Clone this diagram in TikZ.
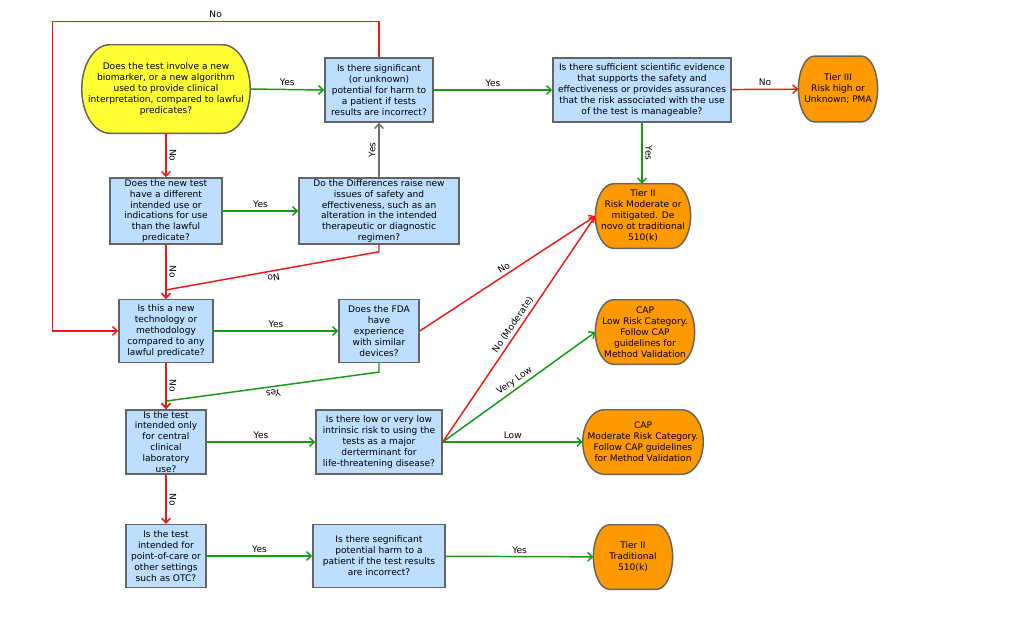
\documentclass[tikz,border=0pt]{standalone}
\usepackage{fontspec}
\setmainfont{DejaVu Sans}
\usetikzlibrary{arrows.meta, calc, backgrounds}

\definecolor{boxblue}{RGB}{189,222,255}
\definecolor{startyellow}{RGB}{255,255,51}
\definecolor{tierorange}{RGB}{255,153,0}
\definecolor{edgegreen}{RGB}{20,155,20}
\definecolor{edgered}{RGB}{240,25,25}
\definecolor{edgegray}{RGB}{110,110,110}
\definecolor{bordergray}{RGB}{100,100,100}

\newcommand{\flowfont}{\fontsize{6.8}{8.2}\selectfont}

% rectangle with elliptic ends behind a terminal node: node, fill, end radius
\newcommand{\termshape}[3]{%
  \path[draw=bordergray, line width=1.1pt, fill=#2]
    let \p1=(#1.north west), \p2=(#1.south east) in
    (\x1+#3, \y1) -- (\x2-#3, \y1)
    arc[start angle=90, end angle=-90, x radius=#3, y radius={(\y1-\y2)/2}]
    -- (\x1+#3, \y2)
    arc[start angle=270, end angle=90, x radius=#3, y radius={(\y1-\y2)/2}] -- cycle;
}

\tikzset{
  question/.style={draw=bordergray, line width=1.1pt, fill=boxblue, align=center,
    minimum height=48pt, inner sep=1pt, font=\flowfont},
  outcome/.style={align=center, minimum height=48pt, inner sep=0pt, font=\flowfont},
  yes_edge/.style={draw=edgegreen, line width=1.1pt, -{Straight Barb[length=3.5pt,width=6.5pt]}},
  no_edge/.style={draw=edgered, line width=1.1pt, -{Straight Barb[length=3.5pt,width=6.5pt]}},
  lbl/.style={font=\flowfont, text=black, inner sep=2pt}
}

\begin{document}
\begin{tikzpicture}[x=0.75pt, y=-0.75pt]
    \useasboundingbox (0,0) rectangle (1024,640);

    % Entry question
    \node[outcome, minimum width=126pt, minimum height=66pt] (start) at (166, 89)
        {Does the test involve a new\\biomarker, or a new algorithm\\used to provide clinical\\interpretation, compared to lawful\\predicates?};

    % Top row
    \node[question, minimum width=81pt] (q_harm) at (379, 90)
        {Is there significant\\(or unknown)\\potential for harm to\\a patient if tests\\results are incorrect?};
    \node[question, minimum width=133.5pt] (q_evid) at (642, 90)
        {Is there sufficient scientific evidence\\that supports the safety and\\effectiveness or provides assurances\\that the risk associated with the use\\of the test is manageable?};
    \node[outcome, minimum width=59pt, minimum height=49pt] (tier3) at (838, 89)
        {Tier III\\Risk high or\\Unknown; PMA};

    % Intended use
    \node[question, minimum width=84pt, minimum height=47pt] (q_use) at (166, 211)
        {Does the new test\\have a different\\intended use or\\indications for use\\than the lawful\\predicate?};
    \node[question, minimum width=120pt, minimum height=47pt] (q_diff) at (379, 211)
        {Do the Differences raise new\\issues of safety and\\effectiveness, such as an\\alteration in the intended\\therapeutic or diagnostic\\regimen?};
    \node[outcome, minimum width=71pt] (tier2a) at (643, 216)
        {Tier II\\Risk Moderate or\\mitigated. De\\novo ot traditional\\510(k)};

    % Technology
    \node[question, minimum width=70.5pt, minimum height=47pt] (q_tech) at (166, 331)
        {Is this a new\\technology or\\methodology\\compared to any\\lawful predicate?};
    \node[question, minimum width=60pt, minimum height=47pt] (q_fda) at (379, 331)
        {Does the FDA\\have\\experience\\with similar\\devices?};
    \node[outcome, minimum width=74pt] (cap_low) at (645, 332)
        {CAP\\Low Risk Category.\\Follow CAP\\guidelines for\\Method Validation};

    % Central laboratory
    \node[question, minimum width=60pt] (q_lab) at (166, 442)
        {Is the test\\intended only\\for central\\clinical\\laboratory\\use?};
    \node[question, minimum width=94.5pt] (q_risk) at (379, 442)
        {Is there low or very low\\intrinsic risk to using the\\tests as a major\\derterminant for\\life-threatening disease?};
    \node[outcome, minimum width=90pt] (cap_mod) at (643, 442)
        {CAP\\Moderate Risk Category.\\Follow CAP guidelines\\for Method Validation};

    % Point of care
    \node[question, minimum width=60pt, minimum height=47pt] (q_poc) at (166, 556)
        {Is the test\\intended for\\point-of-care or\\other settings\\such as OTC?};
    \node[question, minimum width=99pt, minimum height=47pt] (q_harm2) at (379, 556)
        {Is there segnificant\\potential harm to a\\patient if the test results\\are incorrect?};
    \node[outcome, minimum width=59pt] (tier2b) at (633, 557)
        {Tier II\\Traditional\\510(k)};

    % Terminal outlines
    \begin{scope}[on background layer]
        \termshape{start}{startyellow}{21pt}
        \termshape{tier3}{tierorange}{12pt}
        \termshape{tier2a}{tierorange}{13.5pt}
        \termshape{cap_low}{tierorange}{13.5pt}
        \termshape{cap_mod}{tierorange}{16pt}
        \termshape{tier2b}{tierorange}{12pt}
    \end{scope}

    % Yes branches
    \draw[yes_edge] (start.east) -- node[lbl, above] {Yes} (q_harm.west);
    \draw[yes_edge] (q_harm) -- node[lbl, above] {Yes} (q_evid);
    \draw[yes_edge] (q_evid.south) -- node[lbl, anchor=south, rotate=-90] {Yes} (q_evid.south |- tier2a.north);
    \draw[yes_edge] (q_use) -- node[lbl, above] {Yes} (q_diff);
    \draw[yes_edge, draw=edgegray] (q_diff.north) -- node[lbl, anchor=south, rotate=90] {Yes} (q_harm.south);
    \draw[yes_edge] (q_tech) -- node[lbl, above] {Yes} (q_fda);
    \draw[yes_edge] (q_fda.south) -- ++(0,9) -- node[lbl, sloped, allow upside down, above] {Yes}
        ($(q_lab.north)+(0,-8)$) -- (q_lab.north);
    \draw[yes_edge] (q_lab) -- node[lbl, above] {Yes} (q_risk);
    \draw[yes_edge] (q_risk.east) -- node[lbl, sloped, above] {Very Low} (cap_low.west);
    \draw[yes_edge] (q_risk.east) -- node[lbl, above] {Low} (cap_mod.west);
    \draw[yes_edge] (q_poc) -- node[lbl, above] {Yes} (q_harm2);
    \draw[yes_edge] (q_harm2) -- node[lbl, above] {Yes} (tier2b);

    % No branches
    \draw[no_edge] (q_evid) -- node[lbl, above] {No} (tier3);
    \draw[no_edge] (q_harm.north) -- ++(0,-36) -| node[lbl, pos=0.25, above] {No}
        ($(q_tech.west)+(-66,0)$) -- (q_tech.west);
    \draw[no_edge] (start.south) -- node[lbl, anchor=south, rotate=-90] {No} (q_use.north);
    \draw[no_edge] (q_use.south) -- node[lbl, anchor=south, rotate=-90] {No} (q_tech.north);
    \draw[no_edge] (q_diff.south) -- ++(0,7) -- node[lbl, sloped, allow upside down, above] {No}
        ($(q_tech.north)+(0,-9)$) -- (q_tech.north);
    \draw[no_edge] (q_fda.east) -- node[lbl, sloped, above] {No} (tier2a.west);
    \draw[no_edge] (q_risk.east) -- node[lbl, sloped, above] {No (Moderate)} (tier2a.west);
    \draw[no_edge] (q_tech.south) -- node[lbl, anchor=south, rotate=-90] {No} (q_lab.north);
    \draw[no_edge] (q_lab.south) -- node[lbl, anchor=south, rotate=-90] {No} (q_poc.north);
\end{tikzpicture}
\end{document}
